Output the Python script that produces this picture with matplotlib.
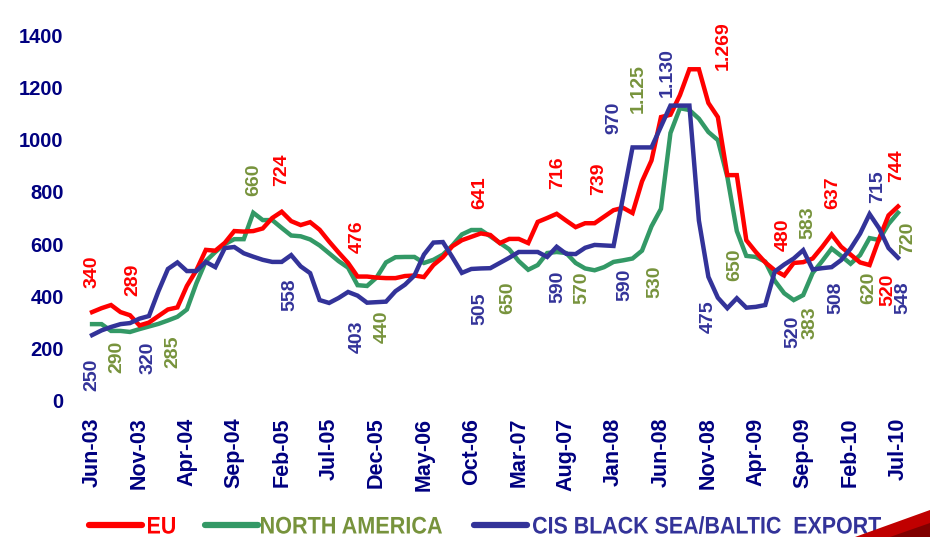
import numpy as np
import matplotlib as mpl
mpl.use('Agg')
import matplotlib.pyplot as plt
from matplotlib.lines import Line2D
from matplotlib.patches import Polygon, PathPatch
from matplotlib.textpath import TextPath
from matplotlib.font_manager import FontProperties
from matplotlib.transforms import Affine2D, IdentityTransform

# ---- data (USD/t, monthly Jun-03 .. Jul-10) ----
tick_labels = ['Jun-03', 'Nov-03', 'Apr-04', 'Sep-04', 'Feb-05', 'Jul-05', 'Dec-05', 'May-06', 'Oct-06',
               'Mar-07', 'Aug-07', 'Jan-08', 'Jun-08', 'Nov-08', 'Apr-09', 'Sep-09', 'Feb-10', 'Jul-10']

eu = [340, 355, 367, 340, 328, 289, 300, 325, 350, 358, 440, 500, 578, 575, 605, 650, 648, 650, 660, 700,
      724, 688, 673, 684, 655, 610, 568, 528, 476, 476, 472, 470, 470, 478, 480, 474, 520, 550, 592, 615,
      628, 641, 635, 604, 620, 620, 604, 685, 700, 716, 690, 665, 680, 680, 705, 730, 739, 719, 840, 920,
      1086, 1095, 1170, 1269, 1269, 1140, 1086, 864, 864, 615, 570, 530, 500, 480, 528, 531, 545, 589, 637, 590,
      560, 530, 520, 620, 710, 744]

north_america = [294, 294, 268, 268, 264, 275, 285, 295, 308, 322, 350, 450, 535, 570, 600, 619, 619, 720, 692, 692,
                 662, 633, 630, 618, 595, 565, 535, 510, 443, 440, 472, 530, 550, 551, 551, 528, 540, 560, 595, 637,
                 654, 654, 630, 605, 580, 535, 502, 520, 566, 570, 566, 528, 507, 500, 512, 532, 538, 545, 575, 668,
                 735, 1025, 1120, 1113, 1080, 1029, 998, 857, 650, 555, 551, 533, 460, 412, 386, 405, 490, 535, 583, 555,
                 525, 558, 623, 616, 677, 720]

cis = [252, 270, 283, 294, 298, 315, 325, 420, 505, 530, 497, 497, 532, 512, 585, 589, 565, 552, 540, 532,
       532, 558, 515, 489, 386, 375, 394, 417, 403, 376, 378, 380, 420, 445, 480, 560, 606, 608, 550, 490,
       505, 507, 508, 528, 548, 570, 570, 570, 551, 590, 563, 562, 586, 597, 595, 593, 780, 970, 970, 970,
       1050, 1130, 1130, 1130, 690, 475, 395, 355, 393, 357, 360, 367, 495, 522, 545, 577, 503, 508, 512, 539,
       583, 640, 715, 661, 585, 548]

# data labels: text, month index, value
eu_labels = [('340', 0.0, 493), ('289', 4.3, 463), ('724', 20.0, 883), ('476', 28.0, 627), ('641', 40.9, 795),
             ('716', 49.1, 872), ('739', 53.4, 852), ('1.269', 66.6, 1361), ('480', 72.9, 635),
             ('637', 78.1, 795), ('520', 83.9, 424), ('744', 84.9, 902)]
na_labels = [('290', 2.6, 168), ('285', 8.5, 187), ('660', 17.0, 845), ('440', 30.6, 283), ('650', 43.8, 394),
             ('570', 51.7, 432), ('530', 59.4, 455), ('1.125', 57.6, 1197), ('650', 67.8, 520),
             ('583', 75.5, 681), ('383', 75.7, 298), ('620', 81.9, 432), ('720', 86.0, 623)]
cis_labels = [('250', 0.0, 99), ('320', 5.9, 164), ('558', 20.9, 405), ('403', 28.0, 245), ('505', 40.9, 352),
              ('590', 49.1, 436), ('970', 55.0, 1082), ('590', 56.2, 444), ('1.130', 60.7, 1258),
              ('475', 65.0, 321), ('520', 73.9, 264), ('508', 78.4, 394), ('715', 82.9, 818), ('548', 85.5, 394)]

RED = '#FF0000'
GREEN = '#339966'
BLUE = '#333399'
OLIVE = '#77933C'
NAVY = '#000080'

plt.rcParams['font.family'] = ['Liberation Sans', 'DejaVu Sans']

W, H = 930, 537
fig = plt.figure(figsize=(W / 100, H / 100), dpi=100)
ax = fig.add_axes([0.0939, 0.2533, 0.8768, 0.6815])

months = np.arange(len(eu))
ax.plot(months, eu, color=RED, lw=3.2, solid_joinstyle='miter', zorder=3)
ax.plot(months, north_america, color=GREEN, lw=3.2, solid_joinstyle='miter', zorder=2)
ax.plot(months, cis, color=BLUE, lw=3.2, solid_joinstyle='miter', zorder=4)

for labels, col in [(eu_labels, RED), (na_labels, OLIVE), (cis_labels, BLUE)]:
    for txt, xi, yv in labels:
        ax.text(xi, yv, txt, color=col, rotation=90, ha='center', va='center',
                fontsize=14, fontweight='bold', zorder=5)

ax.set_xlim(-0.5, 85.5)
ax.set_ylim(0, 1400)
ax.set_yticks(range(0, 1401, 200))
ax.set_xticks(range(0, 86, 5))
ax.set_xticklabels(tick_labels, rotation=90)
ax.tick_params(axis='y', length=0, pad=17, labelsize=14.5, labelcolor=NAVY)
ax.tick_params(axis='x', length=0, pad=12, labelsize=15.5, labelcolor=NAVY)
for lab in ax.get_xticklabels() + ax.get_yticklabels():
    lab.set_fontweight('bold')
for s in ax.spines.values():
    s.set_visible(False)

# legend along the bottom, condensed bold text drawn as squeezed paths (pixel coords)
fp = FontProperties(family='Liberation Sans', weight='bold')
ly = 12  # legend baseline centre, px from bottom
legend_items = [(89, 142, 148, 175, 'EU', RED, RED),
                (205, 258, 261, 442, 'NORTH AMERICA', GREEN, OLIVE),
                (474, 527, 533, 881, 'CIS BLACK SEA/BALTIC  EXPORT', BLUE, BLUE)]
for x0, x1, xt0, xt1, txt, lc, tc in legend_items:
    fig.add_artist(Line2D([x0 / W, x1 / W], [ly / H, ly / H], color=lc, lw=4.5,
                          solid_capstyle='round', transform=fig.transFigure))
    tp = TextPath((0, 0), txt, size=24, prop=fp)
    ext = tp.get_extents()
    sx = (xt1 - xt0) / ext.width
    tr = Affine2D().translate(-ext.x0, 0).scale(sx, 1.0).translate(xt0, ly - 8.5) + IdentityTransform()
    fig.add_artist(PathPatch(tp, facecolor=tc, edgecolor='none', transform=tr))

# red wedge decoration in the corner
wedge = Polygon([(855 / W, 0), (1, 0), (1, 27 / H)], closed=True, transform=fig.transFigure,
                facecolor='#C00000', edgecolor='none')
fig.add_artist(wedge)
wedge2 = Polygon([(890 / W, 0), (1, 0), (1, 14 / H)], closed=True, transform=fig.transFigure,
                 facecolor='#800000', edgecolor='none')
fig.add_artist(wedge2)

fig.savefig('out.png', dpi=100)
